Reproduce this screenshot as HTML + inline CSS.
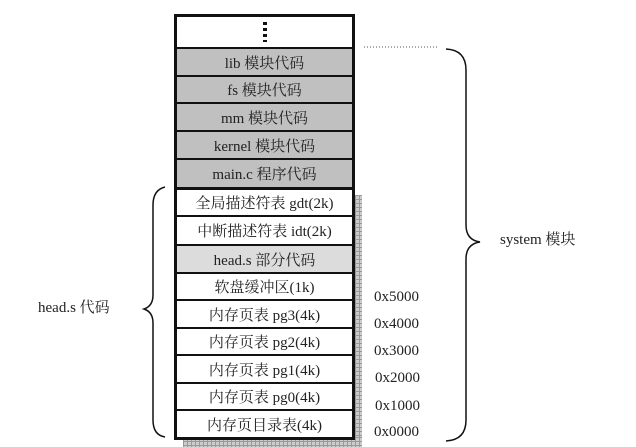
<!DOCTYPE html>
<html><head><meta charset="utf-8"><style>
body{margin:0;width:636px;height:447px;background:#fff;position:relative;overflow:hidden;font-family:"Liberation Serif","Noto Serif CJK SC",serif;color:#222}
.t{position:absolute;font-size:15px;white-space:nowrap;line-height:1}
.row{position:absolute;left:174px;width:181px;box-sizing:border-box;border-left:3px solid #111;border-right:3px solid #111;border-top:2px solid #111;text-align:center;font-size:15px;display:flex;align-items:center;justify-content:center}
.g{background:#c0c0c0}.lg{background:#dcdcdc}.w{background:#fff}
.grid{position:absolute;background-color:#ccc;background-image:linear-gradient(#999 1px,transparent 1px),linear-gradient(90deg,#999 1px,transparent 1px);background-size:4px 4px}
</style></head><body>
<div class="grid" style="left:355px;top:195px;width:7px;height:252px"></div>
<div class="grid" style="left:183px;top:437px;width:179px;height:10px"></div>
<div class="row w" style="top:14px;height:33px;border-top:3px solid #111"><div style="width:4px;height:20px;background:repeating-linear-gradient(#111 0 3px,transparent 3px 6px)"></div></div>
<div class="row g" style="top:47px;height:28px">lib 模块代码</div>
<div class="row g" style="top:75px;height:27px">fs 模块代码</div>
<div class="row g" style="top:102px;height:28px">mm 模块代码</div>
<div class="row g" style="top:130px;height:28px">kernel 模块代码</div>
<div class="row g" style="top:158px;height:29px">main.c 程序代码</div>
<div class="row w" style="top:187px;height:28px;border-top:3px solid #111">全局描述符表 gdt(2k)</div>
<div class="row w" style="top:215px;height:29px">中断描述符表 idt(2k)</div>
<div class="row lg" style="top:244px;height:28px">head.s 部分代码</div>
<div class="row w" style="top:272px;height:27px">软盘缓冲区(1k)</div>
<div class="row w" style="top:299px;height:28px">内存页表 pg3(4k)</div>
<div class="row w" style="top:327px;height:27px">内存页表 pg2(4k)</div>
<div class="row w" style="top:354px;height:28px">内存页表 pg1(4k)</div>
<div class="row w" style="top:382px;height:27px">内存页表 pg0(4k)</div>
<div class="row w" style="top:409px;height:31px;border-bottom:3px solid #111">内存页目录表(4k)</div>
<svg width="636" height="447" style="position:absolute;left:0;top:0">
<line x1="364" y1="47" x2="437" y2="47" stroke="#555" stroke-dasharray="1,2"/>
<path d="M446 49 Q466 50 466 70 L466 225 Q466 240 480 242 Q466 244 466 259 L466 420 Q466 440 446 441" fill="none" stroke="#111" stroke-width="1.5"/>
<path d="M165 187 Q153 190 153 205 L153 295 Q153 306 144 309 Q153 312 153 323 L153 420 Q153 435 165 437" fill="none" stroke="#111" stroke-width="1.5"/>
</svg>
<div class="t" style="left:500px;top:233px">system 模块</div>
<div class="t" style="left:38px;top:301px">head.s 代码</div>
<div class="t" style="left:374px;top:290px">0x5000</div>
<div class="t" style="left:374px;top:317px">0x4000</div>
<div class="t" style="left:374px;top:344px">0x3000</div>
<div class="t" style="left:375px;top:371px">0x2000</div>
<div class="t" style="left:375px;top:399px">0x1000</div>
<div class="t" style="left:374px;top:425px">0x0000</div>
</body></html>
